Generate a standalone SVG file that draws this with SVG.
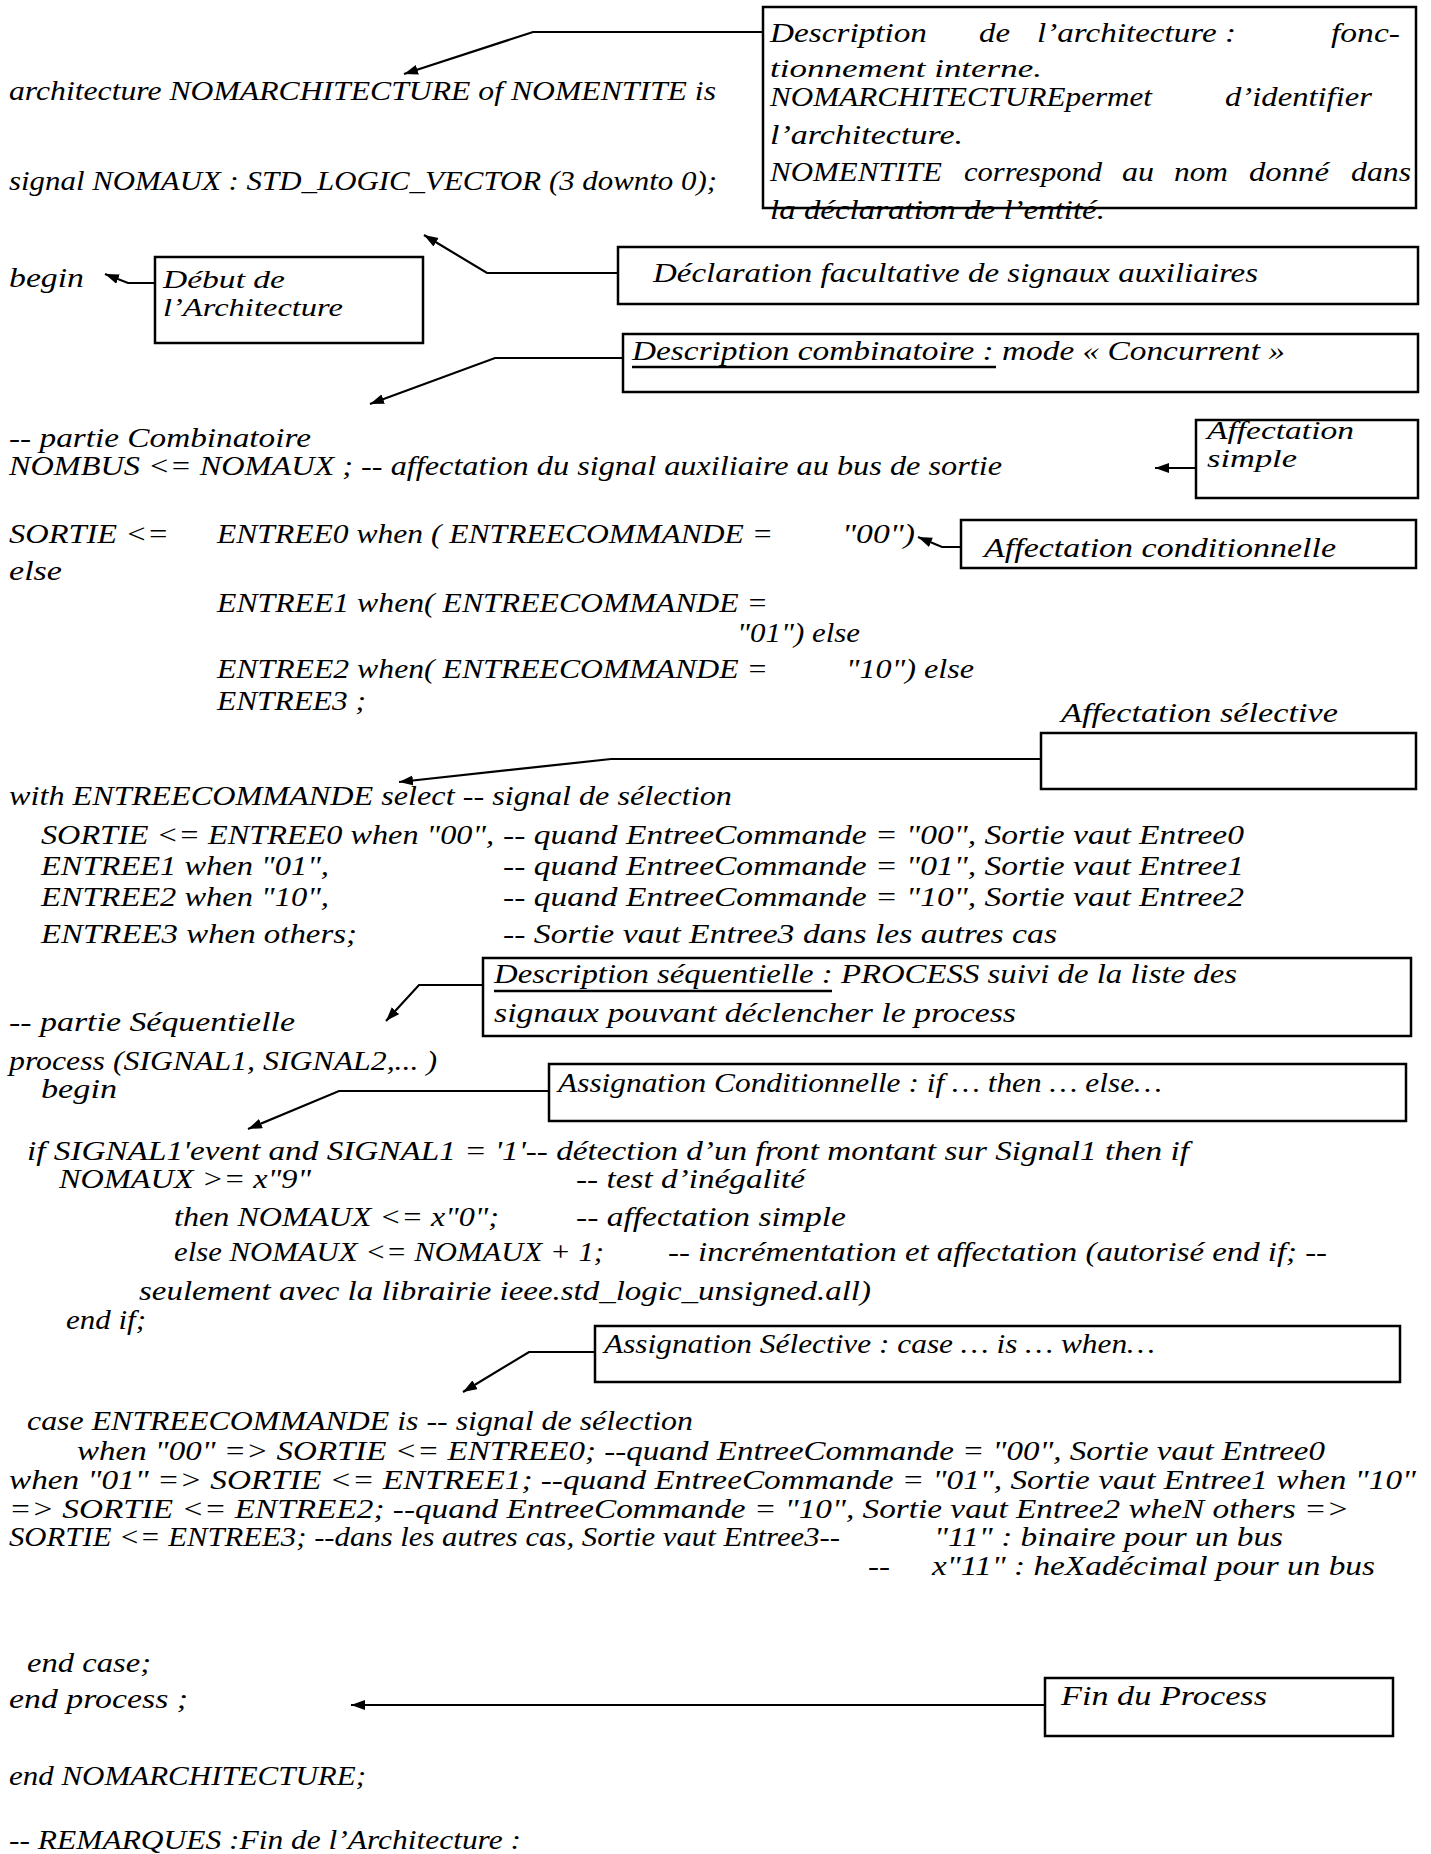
<svg xmlns="http://www.w3.org/2000/svg" width="1431" height="1854" viewBox="0 0 1431 1854">
<style>
text{font-family:"Liberation Serif","DejaVu Serif",serif;font-style:italic;font-size:27px;fill:#000}
.tight{font-size:25px}
.box{fill:none;stroke:#000;stroke-width:2.5}
.ul{stroke:#000;stroke-width:2.5}
.con{fill:none;stroke:#000;stroke-width:2.2;marker-end:url(#ah)}
</style>
<defs>
<marker id="ah" markerUnits="userSpaceOnUse" markerWidth="16" markerHeight="12" refX="14" refY="5" orient="auto">
<path d="M0,0 L14,5 L0,10 z" fill="#000"/>
</marker>
</defs>
<rect width="1431" height="1854" fill="#fff"/>

<g id="code">
<text x="9" y="100" textLength="707" lengthAdjust="spacingAndGlyphs">architecture NOMARCHITECTURE of NOMENTITE is</text>
<text x="9" y="190" textLength="708" lengthAdjust="spacingAndGlyphs">signal NOMAUX : STD_LOGIC_VECTOR (3 downto 0);</text>
<text x="9" y="287" textLength="75" lengthAdjust="spacingAndGlyphs">begin</text>
<text x="9" y="447" textLength="302" lengthAdjust="spacingAndGlyphs">-- partie Combinatoire</text>
<text x="9" y="475" textLength="993" lengthAdjust="spacingAndGlyphs">NOMBUS &lt;= NOMAUX ; -- affectation du signal auxiliaire au bus de sortie</text>
<text x="9" y="543" textLength="160" lengthAdjust="spacingAndGlyphs">SORTIE &lt;=</text>
<text x="217" y="543" textLength="556" lengthAdjust="spacingAndGlyphs">ENTREE0 when ( ENTREECOMMANDE =</text>
<text x="842" y="543" textLength="73" lengthAdjust="spacingAndGlyphs">"00")</text>
<text x="9" y="580" textLength="53" lengthAdjust="spacingAndGlyphs">else</text>
<text x="217" y="612" textLength="551" lengthAdjust="spacingAndGlyphs">ENTREE1 when( ENTREECOMMANDE =</text>
<text x="737" y="642" textLength="123" lengthAdjust="spacingAndGlyphs">"01") else</text>
<text x="217" y="678" textLength="551" lengthAdjust="spacingAndGlyphs">ENTREE2 when( ENTREECOMMANDE =</text>
<text x="846" y="678" textLength="128" lengthAdjust="spacingAndGlyphs">"10") else</text>
<text x="217" y="710" textLength="149" lengthAdjust="spacingAndGlyphs">ENTREE3 ;</text>
<text x="9" y="805" textLength="723" lengthAdjust="spacingAndGlyphs">with ENTREECOMMANDE select -- signal de sélection</text>
<text x="41" y="844" textLength="453" lengthAdjust="spacingAndGlyphs">SORTIE &lt;= ENTREE0 when "00",</text>
<text x="503" y="844" textLength="741" lengthAdjust="spacingAndGlyphs">-- quand EntreeCommande = "00", Sortie vaut Entree0</text>
<text x="41" y="875" textLength="288" lengthAdjust="spacingAndGlyphs">ENTREE1 when "01",</text>
<text x="503" y="875" textLength="741" lengthAdjust="spacingAndGlyphs">-- quand EntreeCommande = "01", Sortie vaut Entree1</text>
<text x="41" y="906" textLength="288" lengthAdjust="spacingAndGlyphs">ENTREE2 when "10",</text>
<text x="503" y="906" textLength="741" lengthAdjust="spacingAndGlyphs">-- quand EntreeCommande = "10", Sortie vaut Entree2</text>
<text x="41" y="943" textLength="316" lengthAdjust="spacingAndGlyphs">ENTREE3 when others;</text>
<text x="503" y="943" textLength="554" lengthAdjust="spacingAndGlyphs">-- Sortie vaut Entree3 dans les autres cas</text>
<text x="9" y="1031" textLength="286" lengthAdjust="spacingAndGlyphs">-- partie Séquentielle</text>
<text x="9" y="1070" textLength="428" lengthAdjust="spacingAndGlyphs">process (SIGNAL1, SIGNAL2,... )</text>
<text x="41" y="1098" textLength="76" lengthAdjust="spacingAndGlyphs">begin</text>
<text x="27" y="1160" textLength="1162" lengthAdjust="spacingAndGlyphs">if SIGNAL1'event and SIGNAL1 = '1'-- détection d’un front montant sur Signal1 then if</text>
<text x="59" y="1188" textLength="252" lengthAdjust="spacingAndGlyphs">NOMAUX &gt;= x"9"</text>
<text x="576" y="1188" textLength="229" lengthAdjust="spacingAndGlyphs">-- test d’inégalité</text>
<text x="174" y="1226" textLength="325" lengthAdjust="spacingAndGlyphs">then NOMAUX &lt;= x"0";</text>
<text x="576" y="1226" textLength="270" lengthAdjust="spacingAndGlyphs">-- affectation simple</text>
<text x="174" y="1261" textLength="430" lengthAdjust="spacingAndGlyphs">else NOMAUX &lt;= NOMAUX + 1;</text>
<text x="668" y="1261" textLength="659" lengthAdjust="spacingAndGlyphs">-- incrémentation et affectation (autorisé end if; --</text>
<text x="139" y="1300" textLength="732" lengthAdjust="spacingAndGlyphs">seulement avec la librairie ieee.std_logic_unsigned.all)</text>
<text x="66" y="1329" textLength="80" lengthAdjust="spacingAndGlyphs">end if;</text>
<text x="27" y="1430" textLength="666" lengthAdjust="spacingAndGlyphs">case ENTREECOMMANDE is -- signal de sélection</text>
<text x="77" y="1460" textLength="1248" lengthAdjust="spacingAndGlyphs">when "00" =&gt; SORTIE &lt;= ENTREE0; --quand EntreeCommande = "00", Sortie vaut Entree0</text>
<text x="9" y="1489" textLength="1407" lengthAdjust="spacingAndGlyphs">when "01" =&gt; SORTIE &lt;= ENTREE1; --quand EntreeCommande = "01", Sortie vaut Entree1 when "10"</text>
<text x="9" y="1518" textLength="1340" lengthAdjust="spacingAndGlyphs">=&gt; SORTIE &lt;= ENTREE2; --quand EntreeCommande = "10", Sortie vaut Entree2 wheN others =&gt;</text>
<text x="9" y="1546" textLength="831" lengthAdjust="spacingAndGlyphs">SORTIE &lt;= ENTREE3; --dans les autres cas, Sortie vaut Entree3--</text>
<text x="934" y="1546" textLength="349" lengthAdjust="spacingAndGlyphs">"11" : binaire pour un bus</text>
<text x="868" y="1575" textLength="22" lengthAdjust="spacingAndGlyphs">--</text>
<text x="932" y="1575" textLength="443" lengthAdjust="spacingAndGlyphs">x"11" : heXadécimal pour un bus</text>
<text x="27" y="1672" textLength="124" lengthAdjust="spacingAndGlyphs">end case;</text>
<text x="9" y="1708" textLength="179" lengthAdjust="spacingAndGlyphs">end process ;</text>
<text x="9" y="1785" textLength="357" lengthAdjust="spacingAndGlyphs">end NOMARCHITECTURE;</text>
<text x="9" y="1849" textLength="512" lengthAdjust="spacingAndGlyphs">-- REMARQUES :Fin de l’Architecture :</text>
</g>

<g id="connectors">
<path class="con" d="M763,32 L533,32 L404,74"/>
<path class="con" d="M618,273 L487,273 L424,235"/>
<path class="con" d="M155,283 L128,283 L105,274"/>
<path class="con" d="M623,358 L495,358 L370,404"/>
<path class="con" d="M1196,468 L1155,468"/>
<path class="con" d="M961,547 L942,547 L918,537"/>
<path class="con" d="M1041,759 L611,759 L399,782"/>
<path class="con" d="M483,985 L419,985 L386,1021"/>
<path class="con" d="M549,1091 L339,1091 L248,1129"/>
<path class="con" d="M595,1352 L529,1352 L463,1392"/>
<path class="con" d="M1045,1705 L351,1705"/>
</g>

<g id="node-architecture">
<rect class="box" x="763" y="7" width="653" height="201"/>
<text x="770" y="42" textLength="157" lengthAdjust="spacingAndGlyphs">Description</text>
<text x="979" y="42" textLength="31" lengthAdjust="spacingAndGlyphs">de</text>
<text x="1037" y="42" textLength="199" lengthAdjust="spacingAndGlyphs">l’architecture :</text>
<text x="1331" y="42" textLength="69" lengthAdjust="spacingAndGlyphs">fonc-</text>
<text class="tight" x="770" y="77" textLength="272" lengthAdjust="spacingAndGlyphs">tionnement interne.</text>
<text x="770" y="106" textLength="382" lengthAdjust="spacingAndGlyphs">NOMARCHITECTUREpermet</text>
<text x="1225" y="106" textLength="147" lengthAdjust="spacingAndGlyphs">d’identifier</text>
<text x="770" y="144" textLength="193" lengthAdjust="spacingAndGlyphs">l’architecture.</text>
<text x="770" y="181" textLength="172" lengthAdjust="spacingAndGlyphs">NOMENTITE</text>
<text x="964" y="181" textLength="138" lengthAdjust="spacingAndGlyphs">correspond</text>
<text x="1122" y="181" textLength="32" lengthAdjust="spacingAndGlyphs">au</text>
<text x="1174" y="181" textLength="54" lengthAdjust="spacingAndGlyphs">nom</text>
<text x="1249" y="181" textLength="80" lengthAdjust="spacingAndGlyphs">donné</text>
<text x="1351" y="181" textLength="60" lengthAdjust="spacingAndGlyphs">dans</text>
<text x="770" y="219" textLength="335" lengthAdjust="spacingAndGlyphs">la déclaration de l’entité.</text>
</g>

<g id="node-declaration">
<rect class="box" x="618" y="247" width="800" height="57"/>
<text x="653" y="282" textLength="605" lengthAdjust="spacingAndGlyphs">Déclaration facultative de signaux auxiliaires</text>
</g>

<g id="node-debut">
<rect class="box" x="155" y="257" width="268" height="86"/>
<text class="tight" x="163" y="288" textLength="122" lengthAdjust="spacingAndGlyphs">Début de</text>
<text class="tight" x="163" y="316" textLength="180" lengthAdjust="spacingAndGlyphs">l’Architecture</text>
</g>

<g id="node-combinatoire">
<rect class="box" x="623" y="334" width="795" height="58"/>
<text x="632" y="360" textLength="653" lengthAdjust="spacingAndGlyphs">Description combinatoire : mode « Concurrent »</text>
<line class="ul" x1="632" y1="367" x2="996" y2="367"/>
</g>

<g id="node-simple">
<rect class="box" x="1196" y="420" width="222" height="78"/>
<text class="tight" x="1207" y="439" textLength="147" lengthAdjust="spacingAndGlyphs">Affectation</text>
<text class="tight" x="1207" y="467" textLength="90" lengthAdjust="spacingAndGlyphs">simple</text>
</g>

<g id="node-conditionnelle">
<rect class="box" x="961" y="520" width="455" height="48"/>
<text x="984" y="557" textLength="352" lengthAdjust="spacingAndGlyphs">Affectation conditionnelle</text>
</g>

<g id="node-selective">
<text x="1061" y="722" textLength="277" lengthAdjust="spacingAndGlyphs">Affectation sélective</text>
<rect class="box" x="1041" y="733" width="375" height="56"/>
</g>

<g id="node-sequentielle">
<rect class="box" x="483" y="958" width="928" height="78"/>
<text x="494" y="983" textLength="743" lengthAdjust="spacingAndGlyphs">Description séquentielle : PROCESS suivi de la liste des</text>
<line class="ul" x1="494" y1="991" x2="832" y2="991"/>
<text x="494" y="1022" textLength="522" lengthAdjust="spacingAndGlyphs">signaux pouvant déclencher le process</text>
</g>

<g id="node-assign-cond">
<rect class="box" x="549" y="1064" width="857" height="57"/>
<text x="558" y="1092" textLength="604" lengthAdjust="spacingAndGlyphs">Assignation Conditionnelle : if … then … else…</text>
</g>

<g id="node-assign-sel">
<rect class="box" x="595" y="1326" width="805" height="56"/>
<text x="604" y="1353" textLength="551" lengthAdjust="spacingAndGlyphs">Assignation Sélective : case … is … when…</text>
</g>

<g id="node-fin-process">
<rect class="box" x="1045" y="1678" width="348" height="58"/>
<text x="1061" y="1705" textLength="206" lengthAdjust="spacingAndGlyphs">Fin du Process</text>
</g>
</svg>
